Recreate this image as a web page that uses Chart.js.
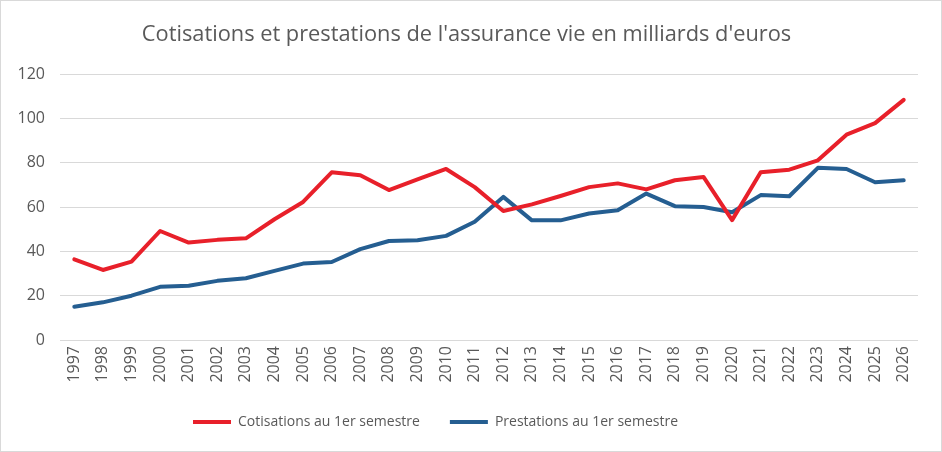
<!DOCTYPE html>
<html>
<head>
<meta charset="utf-8">
<script src="https://cdn.jsdelivr.net/npm/chart.js@4.4.1/dist/chart.umd.min.js"></script>
<style>
  html, body { margin: 0; padding: 0; background: #fff; }
  #wrap { position: relative; width: 942px; height: 452px; box-sizing: border-box; border: 1px solid #d9d9d9; }
</style>
</head>
<body>
<div id="wrap"><canvas id="lifeChart"></canvas></div>
<script>
// Années (axe des x)
const years = ['1997', '1998', '1999', '2000', '2001', '2002', '2003', '2004', '2005', '2006',
               '2007', '2008', '2009', '2010', '2011', '2012', '2013', '2014', '2015', '2016',
               '2017', '2018', '2019', '2020', '2021', '2022', '2023', '2024', '2025', '2026'];

// Cotisations au 1er semestre (Md€)
const cotisations = [36.4, 31.6, 35.4, 49.2, 44.0, 45.2, 45.9, 54.5, 62.3, 75.7,
                     74.4, 67.7, 72.5, 77.2, 69.0, 58.2, 61.2, 65.0, 69.0, 70.7,
                     68.0, 72.1, 73.6, 54.1, 75.7, 76.9, 81.1, 92.7, 97.9, 108.4];

// Prestations au 1er semestre (Md€)
const prestations = [15.0, 17.0, 20.0, 24.0, 24.5, 26.7, 27.9, 31.2, 34.5, 35.2,
                     41.0, 44.7, 45.0, 47.0, 53.4, 64.6, 54.0, 54.0, 57.1, 58.6,
                     66.1, 60.4, 60.0, 57.7, 65.4, 64.9, 77.7, 77.2, 71.2, 72.1];

const yTicks = [0, 20, 40, 60, 80, 100, 120];

const textColor = '#595959';
const gridColor = '#d9d9d9';
const fontFamily = '"Open Sans", "Noto Sans", sans-serif';

// the Excel legend sits a bit left of centre
const legendShift = {
    id: 'legendShift',
    afterLayout(chart) {
        chart.legend.left -= 31;
        chart.legend.right -= 31;
    },
};

const ctx = document.getElementById('lifeChart').getContext('2d');

const chart = new Chart(ctx, {
    type: 'line',
    data: {
        labels: years,
        datasets: [{
            label: 'Cotisations au 1er semestre',
            data: cotisations,
            borderColor: '#e8202a',
            backgroundColor: '#e8202a',
            borderWidth: 4,
            borderCapStyle: 'round',
            borderJoinStyle: 'round',
            pointRadius: 0,
            tension: 0,
            fill: false,
        }, {
            label: 'Prestations au 1er semestre',
            data: prestations,
            borderColor: '#255e91',
            backgroundColor: '#255e91',
            borderWidth: 4,
            borderCapStyle: 'round',
            borderJoinStyle: 'round',
            pointRadius: 0,
            tension: 0,
            fill: false,
        }],
    },
    plugins: [legendShift],
    options: {
        responsive: true,
        maintainAspectRatio: false,
        animation: false,
        layout: {
            padding: { left: 14, right: 23, top: 1, bottom: 12 },
        },
        plugins: {
            title: {
                display: true,
                text: "Cotisations et prestations de l'assurance vie en milliards d'euros",
                color: textColor,
                font: { family: fontFamily, size: 21.8, weight: 'normal' },
                padding: { top: 20, bottom: 26 },
            },
            legend: {
                position: 'bottom',
                labels: {
                    color: textColor,
                    font: { family: fontFamily, size: 14 },
                    usePointStyle: true,
                    pointStyle: 'line',
                    pointStyleWidth: 38,
                    padding: 30,
                },
            },
            tooltip: { enabled: false },
        },
        scales: {
            x: {
                offset: true,
                grid: { display: false, drawTicks: false },
                border: { display: false },
                ticks: {
                    color: textColor,
                    font: { family: fontFamily, size: 16 },
                    minRotation: 90,
                    maxRotation: 90,
                    autoSkip: false,
                    padding: 6,
                },
                afterFit(scale) { scale.height = 45; },
            },
            y: {
                min: 0,
                max: 120,
                afterBuildTicks(scale) { scale.ticks = yTicks.map(v => ({ value: v })); },
                grid: { color: gridColor, lineWidth: 1, drawTicks: false },
                border: { display: false },
                ticks: {
                    color: textColor,
                    font: { family: fontFamily, size: 16 },
                    padding: 15,
                },
                afterFit(scale) { scale.width = 45; },
            },
        },
    },
});
</script>
</body>
</html>
